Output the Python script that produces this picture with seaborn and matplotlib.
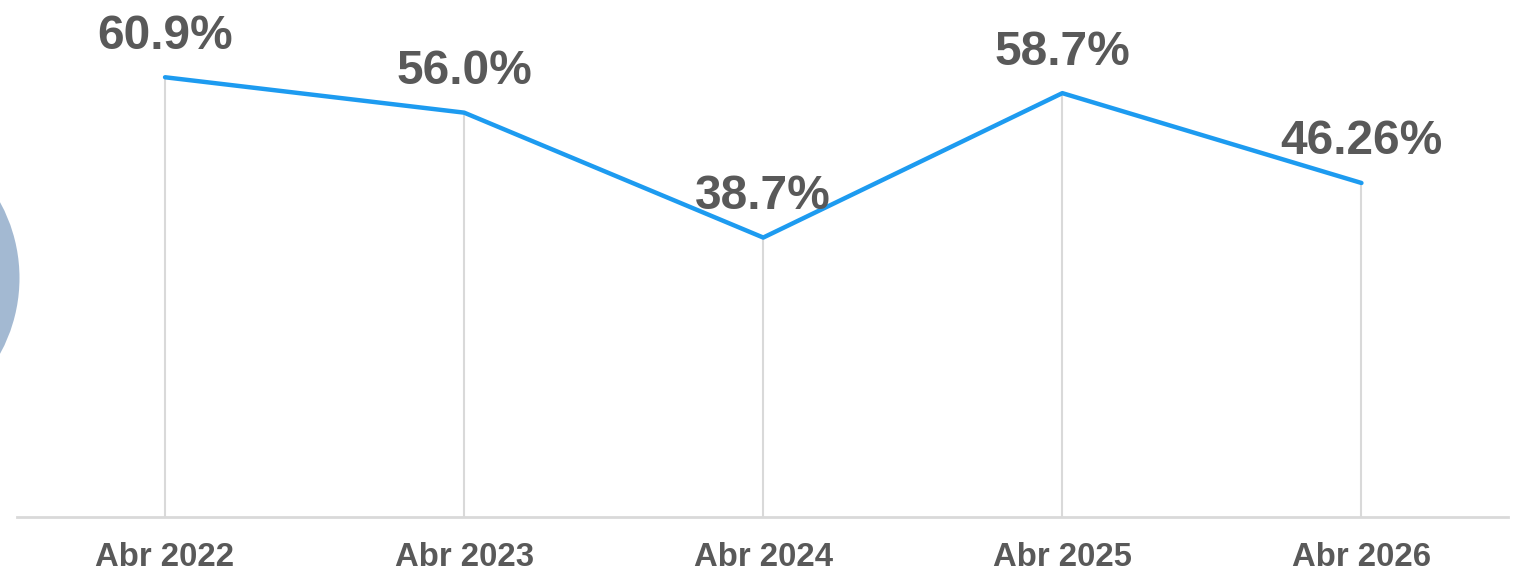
import pandas as pd
import numpy as np
import matplotlib
matplotlib.use("Agg")
import matplotlib.pyplot as plt
from matplotlib.patches import Ellipse
import seaborn as sns

# Data
periods = ["Abr 2022", "Abr 2023", "Abr 2024", "Abr 2025", "Abr 2026"]
values = [60.9, 56.0, 38.7, 58.7, 46.26]
labels = ["60.9%", "56.0%", "38.7%", "58.7%", "46.26%"]

df = pd.DataFrame({"period": periods, "value": values})

sns.set_theme(style="white")
plt.rcParams["font.family"] = ["Liberation Sans", "DejaVu Sans"]

text_color = "#595959"
line_color = "#1D9BF0"
grid_color = "#D9D9D9"

fig = plt.figure(figsize=(15.14, 5.71), dpi=100)
ax = fig.add_axes([17 / 1514, 54 / 571, (1508 - 17) / 1514, 517 / 571])
ax.patch.set_alpha(0)

# decorative circle cut off at the left edge
circle = Ellipse((-138 / 1514, 1 - 278 / 571), 2 * 157.5 / 1514, 2 * 157.5 / 571,
                 transform=fig.transFigure, facecolor="#A3B9D2", edgecolor="none", zorder=0)
fig.patches.append(circle)

x = np.arange(len(periods))
# drop lines from each point to the baseline
ax.vlines(x, 0, df["value"], color=grid_color, lw=1.5, zorder=1)

sns.lineplot(data=df, x="period", y="value", ax=ax, color=line_color, lw=3.2,
             solid_capstyle="round", zorder=3, sort=False)

for xi, v, lab in zip(x, values, labels):
    ax.annotate(lab, (xi, v), xytext=(0, 20.5), textcoords="offset points",
                ha="center", va="baseline", fontsize=34.5, fontweight="bold",
                color=text_color)

ax.set_xlim(-0.495, 4.49)
ax.set_ylim(0, 71.6)
ax.set_xlabel("")
ax.set_ylabel("")
ax.set_yticks([])
ax.set_xticks(x)
ax.set_xticklabels(periods, fontsize=23.7, fontweight="bold", color=text_color)
ax.tick_params(axis="x", length=0, pad=18)

for side in ["top", "right", "left"]:
    ax.spines[side].set_visible(False)
ax.spines["bottom"].set_color(grid_color)
ax.spines["bottom"].set_linewidth(2)

fig.savefig("out.png", dpi=100)
